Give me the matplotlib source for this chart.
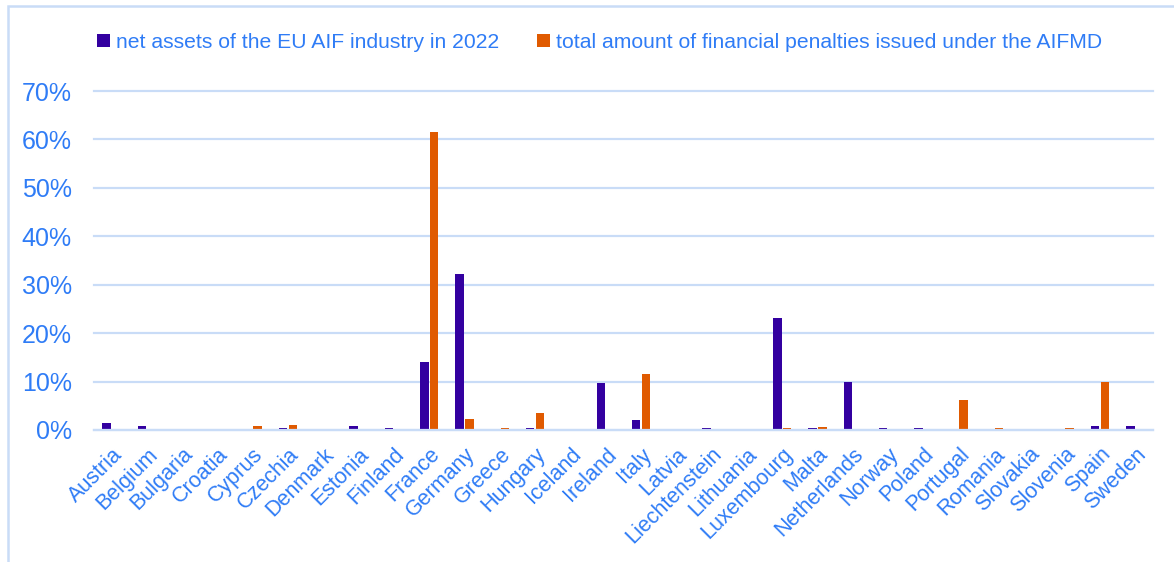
import numpy as np
import matplotlib
matplotlib.use("Agg")
import matplotlib.pyplot as plt
from matplotlib.patches import Rectangle
from matplotlib.ticker import PercentFormatter

plt.rcParams['font.family'] = ['Liberation Sans', 'DejaVu Sans']

# share of each country, in percent
countries = ['Austria', 'Belgium', 'Bulgaria', 'Croatia', 'Cyprus', 'Czechia', 'Denmark',
             'Estonia', 'Finland', 'France', 'Germany', 'Greece', 'Hungary', 'Iceland',
             'Ireland', 'Italy', 'Latvia', 'Liechtenstein', 'Lithuania', 'Luxembourg',
             'Malta', 'Netherlands', 'Norway', 'Poland', 'Portugal', 'Romania',
             'Slovakia', 'Slovenia', 'Spain', 'Sweden']
net_assets = [1.5, 0.9, 0.0, 0.0, 0.05, 0.3, 0.0,
              0.9, 0.45, 14.0, 32.2, 0.05, 0.3, 0.05,
              9.6, 2.0, 0.0, 0.5, 0.0, 23.2,
              0.3, 9.8, 0.5, 0.3, 0.1, 0.0,
              0.0, 0.05, 0.9, 0.9]
penalties = [0.0, 0.0, 0.0, 0.0, 0.9, 1.1, 0.0,
             0.0, 0.0, 61.6, 2.3, 0.3, 3.5, 0.0,
             0.0, 11.6, 0.0, 0.0, 0.0, 0.5,
             0.7, 0.0, 0.0, 0.0, 6.2, 0.4,
             0.0, 0.3, 9.8, 0.0]

blue = '#3300a0'
orange = '#e05a00'
txt = '#2f7cf6'
grid = '#c9dcf7'

fig = plt.figure(figsize=(11.74, 5.62), dpi=100)
ax = fig.add_axes([0.080, 0.235, 0.902, 0.603])

x = np.arange(len(countries))
w = 0.24
ax.bar(x - w / 2 - 0.02, np.array(net_assets) / 100, w, color=blue,
       label='net assets of the EU AIF industry in 2022')
ax.bar(x + w / 2 + 0.02, np.array(penalties) / 100, w, color=orange,
       label='total amount of financial penalties issued under the AIFMD')

ax.set_xlim(-0.5, len(countries) - 0.5)
ax.set_ylim(0, 0.7)
ax.set_yticks(np.arange(0, 0.71, 0.1))
ax.yaxis.set_major_formatter(PercentFormatter(1.0, decimals=0))
ax.set_xticks(x)
ax.set_xticklabels(countries, rotation=45, ha='right', rotation_mode='anchor')
ax.tick_params(axis='both', length=0, colors=txt)
ax.tick_params(axis='y', labelsize=18, pad=16)
ax.tick_params(axis='x', labelsize=15.5, pad=10)
ax.yaxis.grid(True, color=grid, linewidth=1.6)
for gl in ax.get_ygridlines():
    gl.set_clip_on(False)
ax.set_axisbelow(True)
for s in ['top', 'right', 'left']:
    ax.spines[s].set_visible(False)
ax.spines['bottom'].set_color(grid)
ax.spines['bottom'].set_linewidth(1.6)

leg = fig.legend(loc='center', bbox_to_anchor=(0.511, 0.925), ncol=2, frameon=False,
                 fontsize=15.2, handlelength=0.6, handleheight=0.6, handletextpad=0.3,
                 columnspacing=1.8)
for t in leg.get_texts():
    t.set_color(txt)

# light frame around the chart area
fig.patches.append(Rectangle((8 / 1174, -0.1), 1.2, 0.1 + 1 - 6 / 562,
                             transform=fig.transFigure, fill=False,
                             edgecolor=grid, linewidth=1.8))

fig.savefig('out.png', dpi=100)
